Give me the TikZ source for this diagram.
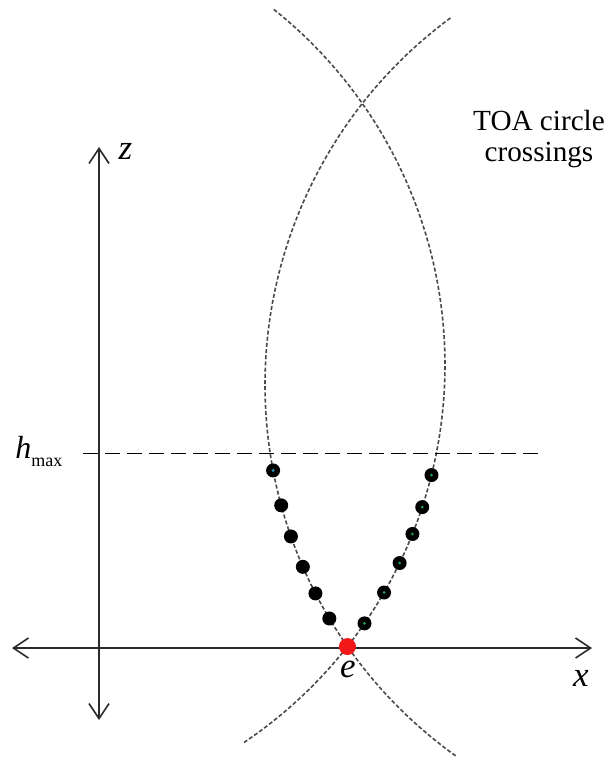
\documentclass[tikz,border=0pt]{standalone}
\usepackage{fontspec}
\setmainfont{Liberation Serif}
\usetikzlibrary{arrows.meta,calc}
\definecolor{Ink}{HTML}{2B2B2B}
\definecolor{Trace}{HTML}{4A4A4A}
\definecolor{Hot}{HTML}{F01818}
\definecolor{Sky}{HTML}{2AA6D6}
\definecolor{Leaf}{HTML}{1F9E55}
\tikzset{
 axisline/.style={draw=Ink,line width=0.8pt,{Straight Barb[length=7.5pt,width=10pt]}-{Straight Barb[length=7.5pt,width=10pt]}},
 toa/.style={draw=Trace,line width=0.8pt,dash pattern=on 2pt off 1.1pt},
 hline/.style={draw=black,line width=0.6pt,dash pattern=on 7.5pt off 3.5pt},
 blob/.style={circle,fill=black,inner sep=0pt,minimum size=7pt},
 hit/.style={circle,fill=Hot,inner sep=0pt,minimum size=8.5pt},
 lbl/.style={inner sep=0pt,font=\fontsize{17.5}{20}\selectfont\itshape}
}
\begin{document}
\begin{tikzpicture}[x=0.5pt,y=-0.5pt]
\useasboundingbox (0,0) rectangle (610,759);
\coordinate (xl) at (12,648);
\coordinate (xr) at (592,648);
\coordinate (zb) at (99,720);
\coordinate (zt) at (99,147);
\coordinate (hl) at (83,453.5);
\coordinate (hr) at (542,453.5);
\coordinate (ca) at (721,385);
\coordinate (cb) at (-10,365);
\draw[toa] ($(ca)+(-126.4:456)$) arc[start angle=-126.4,end angle=-234.6,radius=456];
\draw[toa] ($(cb)+(-51.4:455)$) arc[start angle=-51.4,end angle=56.3,radius=455];
\draw[hline] (hl)--(hr);
\draw[axisline] (xl)--(xr);
\draw[axisline] (zb)--(zt);
\foreach \a [count=\i] in {169.2,164.7,160.6,156.5,152.8,149.2} \node[blob] (l\i) at ($(ca)+(\a:456)$) {};
\foreach \a [count=\i] in {14.0,18.2,21.8,25.8,30.0,34.6} \node[blob] (r\i) at ($(cb)+(\a:455)$) {};
\fill[Sky] (l1) circle[radius=1.5];
\foreach \i in {1,...,6} \fill[Leaf] (r\i) circle[radius=1.5];
\node[hit] (e) at ($(ca)+(145:456)$) {};
\node[lbl] (z) at (125.5,151.5) {z};
\node[lbl] (x) at (581,678) {x};
\node[lbl] (el) at (348,669) {e};
\node[inner sep=0pt,anchor=base west,font=\fontsize{16}{18}\selectfont] (h) at (15,458) {\textit{h}\raisebox{-4pt}{\fontsize{9}{10}\selectfont max}};
\node[align=center,inner sep=0pt,font=\fontsize{14.6}{15.5}\selectfont] (t) at (539,139) {TOA circle\\crossings};
\end{tikzpicture}
\end{document}
